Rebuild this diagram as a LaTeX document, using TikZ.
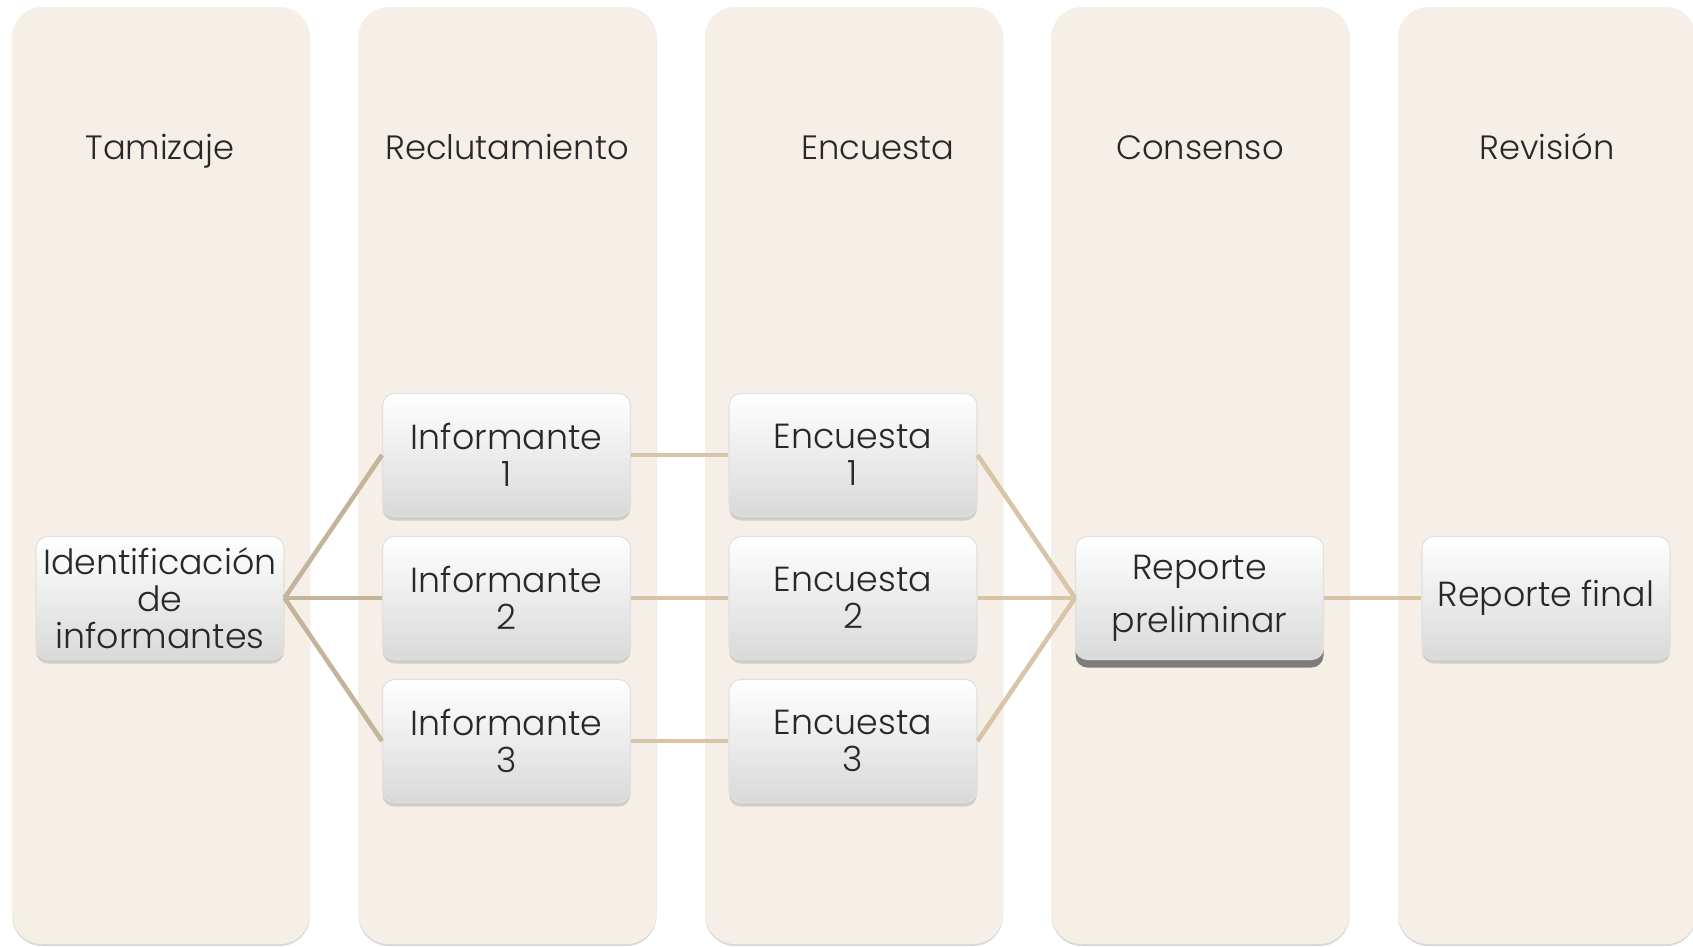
\documentclass[tikz,border=0pt]{standalone}
\usepackage{fontspec}
\setmainfont{Poppins Light}
\usepackage{tikz}
\usetikzlibrary{positioning,shadows}
\definecolor{lanecolor}{RGB}{245,239,232}
\definecolor{linkdark}{RGB}{196,180,156}
\definecolor{linklight}{RGB}{216,197,168}
\definecolor{textcolor}{RGB}{40,40,40}

\begin{document}
\begin{tikzpicture}[%
    node distance=1.43cm and 3.465cm, % Global setup of box spacing
    ]
\tikzset{
  lane/.style={rectangle, rounded corners=0.3cm, fill=lanecolor, minimum width=2.98cm,
    minimum height=9.37cm, inner sep=0pt,
    drop shadow={shadow xshift=0pt, shadow yshift=-0.02cm, opacity=0.25, fill=black!60}},
  head/.style={anchor=base, text=textcolor, font=\fontsize{9.6}{11}\selectfont},
  base/.style={rectangle, rounded corners=0.12cm, on grid, align=center,
    minimum width=2.48cm, minimum height=1.23cm, inner sep=1pt, text=textcolor,
    draw=black!12, line width=0.3pt, top color=white, bottom color=black!15,
    font=\fontsize{9.9}{10.6}\selectfont},
  proc/.style={base, drop shadow={shadow xshift=0pt, shadow yshift=-0.04cm, opacity=0.3}},
  term/.style={base, font=\fontsize{9.9}{15}\selectfont,
    drop shadow={shadow xshift=0pt, shadow yshift=-0.08cm, opacity=0.7, fill=black!70}},
  link/.style={line width=1.3pt, draw=linklight},
}
\useasboundingbox (0,0) rectangle (16.93,-9.46);

% lanes
\node [lane] (l1) at (1.61,-4.755) {};
\node [lane] (l2) at (5.075,-4.755) {};
\node [lane] (l3) at (8.54,-4.755) {};
\node [lane] (l4) at (12.005,-4.755) {};
\node [lane] (l5) at (15.47,-4.755) {};

\node [head] (h1) at (1.60,-1.59) {Tamizaje};
\node [head] (h2) at (5.07,-1.59) {Reclutamiento};
\node [head] (h3) at (8.78,-1.59) {Encuesta};
\node [head] (h4) at (12.0,-1.59) {Consenso};
\node [head] (h5) at (15.47,-1.59) {Revisión};

% boxes
\node [proc] (id) at (1.60,-5.98) {Identificación\\de\\informantes};
\node [proc,right=of id] (inf2) {Informante\\2};
\node [proc,above=of inf2] (inf1) {Informante\\1};
\node [proc,below=of inf2] (inf3) {Informante\\3};
\node [proc,right=of inf1] (enc1) {Encuesta\\1};
\node [proc,right=of inf2] (enc2) {Encuesta\\2};
\node [proc,right=of inf3] (enc3) {Encuesta\\3};
\node [term,right=of enc2] (rp) {Reporte\\preliminar};
\node [proc,right=of rp] (rf) {Reporte final};

%connect
\draw [link, draw=linkdark] (id.east) -- (inf1.west);
\draw [link, draw=linkdark] (id.east) -- (inf2.west);
\draw [link, draw=linkdark] (id.east) -- (inf3.west);
\draw [link] (inf1.east) -- (enc1.west);
\draw [link] (inf2.east) -- (enc2.west);
\draw [link] (inf3.east) -- (enc3.west);
\draw [link] (enc1.east) -- (rp.west);
\draw [link] (enc2.east) -- (rp.west);
\draw [link] (enc3.east) -- (rp.west);
\draw [link] (rp.east) -- (rf.west);

\end{tikzpicture}
\end{document}
